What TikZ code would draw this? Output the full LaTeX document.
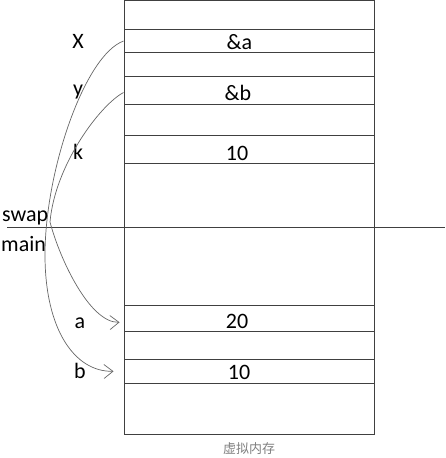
\documentclass[tikz,border=0pt]{standalone}
\usepackage{fontspec}
\setmainfont{Carlito}
\newfontfamily\cjk{Noto Sans CJK SC}
\usetikzlibrary{arrows.meta}
\tikzset{ cell/.style = {rectangle, draw=black!75, line width=0.9pt, minimum width=250pt, inner sep=0pt} }
\tikzset{ lbl/.style = {font=\fontsize{22}{26}\selectfont, inner sep=0pt, anchor=base} }
\tikzset{ link/.style = {draw=black!60, line width=0.7pt, -{Straight Barb[length=9pt,width=14pt]}} }

\begin{document}
\begin{tikzpicture}[x=1pt, y=-1pt]
        \useasboundingbox (0,0) rectangle (445,458);
        % memory column and its cells
        \node [cell, minimum height=433.5pt] (mem) at (249,217.25) {};
        \node [cell, minimum height=23pt] (cx) at (249,41) {};
        \node [cell, minimum height=28pt] (cy) at (249,90.5) {};
        \node [cell, minimum height=28pt] (ck) at (249,149.5) {};
        \node [cell, minimum height=26pt] (ca) at (249,318.3) {};
        \node [cell, minimum height=24pt] (cb) at (249,371.3) {};
        % values
        \node [lbl] (vx) at (239.5,49.3) {\&a};
        \node [lbl] (vy) at (238,100) {\&b};
        \node [lbl] (vk) at (237,160) {10};
        \node [lbl] (va) at (237,328.7) {20};
        \node [lbl] (vb) at (239,379.7) {10};
        % names
        \node [lbl] (nx) at (78,48) {X};
        \node [lbl] (ny) at (78,95) {y};
        \node [lbl] (nk) at (78,159.5) {k};
        \node [lbl] (na) at (80,328) {a};
        \node [lbl] (nb) at (80,378.7) {b};
        \node [lbl, anchor=base west] (swap) at (2,221.5) {swap};
        \node [lbl, anchor=base west] (main) at (1,251) {main};
        \node [font=\cjk\fontsize{13}{15}\selectfont, text=black!50, inner sep=0pt, anchor=base] (cap) at (249,453) {虚拟内存};
        % frame divider
        \draw [draw=black!75, line width=0.9pt] (7,227.5) -- (445,227.5);
        % pointers
        \draw [link] (cx.west) .. controls (85,55) and (45,170) .. (45,255) .. controls (45,330) and (75,372) .. ([xshift=-10pt]cb.west);
        \draw [link] ([yshift=-2pt]cy.west) .. controls (100,105) and (55,165) .. (50,222) .. controls (60,260) and (90,323) .. ([xshift=-4pt,yshift=-4pt]ca.west);
\end{tikzpicture}
\end{document}
